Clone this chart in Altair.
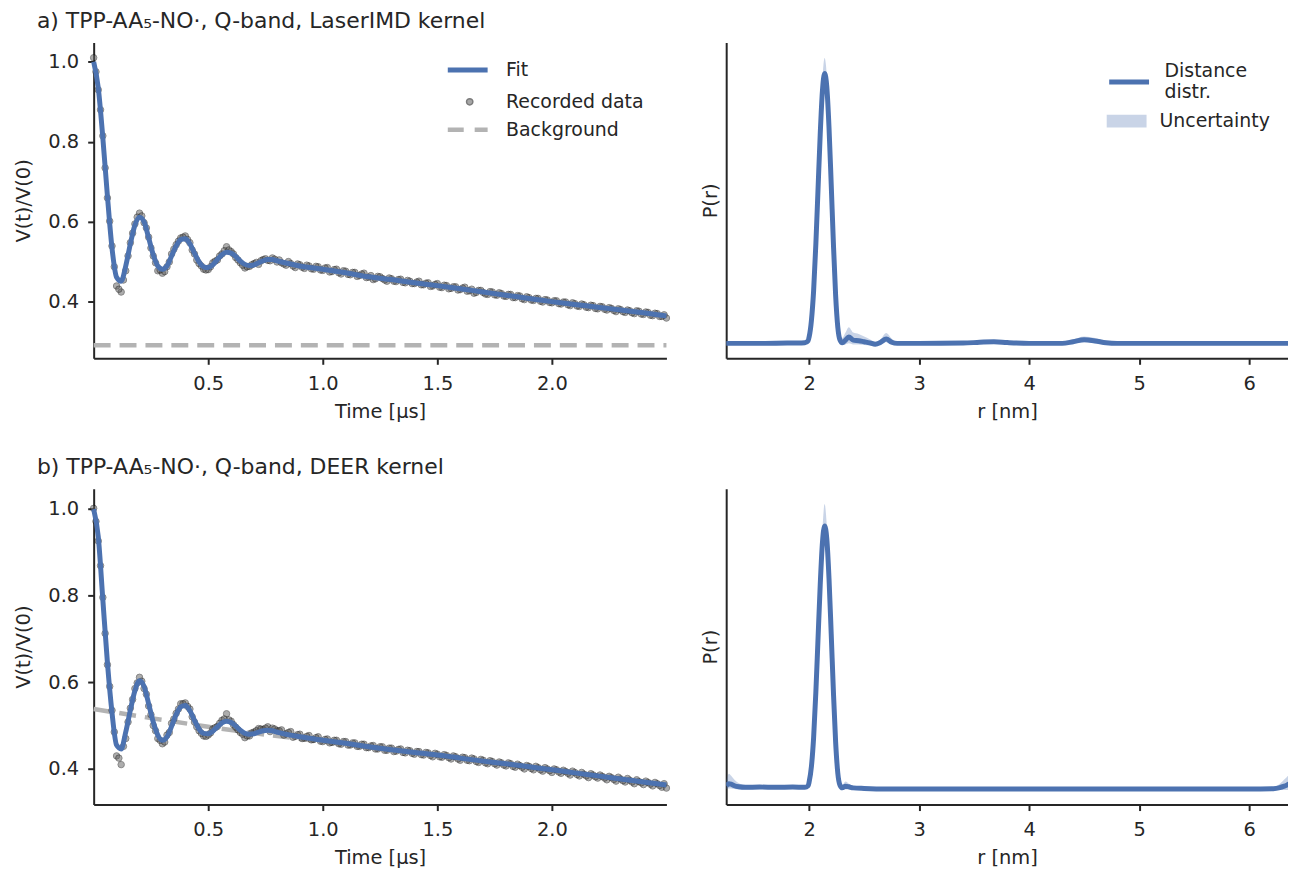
import altair as alt
import pandas as pd

FONT = "DejaVu Sans"
TEXT = "#262626"
BLUE = "#4C72B0"
GREY_BG = "#b3b3b3"
GREY_DOT = "#5e5e5e"

# ---------------- time-domain data (sampled on two interleaved grids) ----------------
time_us_even = [0.00, 0.02, 0.04, 0.06, 0.08, 0.10, 0.12, 0.14, 0.16, 0.18,
                0.20, 0.22, 0.24, 0.26, 0.28, 0.30, 0.32, 0.34, 0.36, 0.38,
                0.40, 0.42, 0.44, 0.46, 0.48, 0.50, 0.52, 0.54, 0.56, 0.58,
                0.60, 0.62, 0.64, 0.66, 0.68, 0.70, 0.72, 0.74, 0.76, 0.78,
                0.80, 0.82, 0.84, 0.86, 0.88, 0.90, 0.92, 0.94, 0.96, 0.98,
                1.00, 1.02, 1.04, 1.06, 1.08, 1.10, 1.12, 1.14, 1.16, 1.18,
                1.20, 1.22, 1.24, 1.26, 1.28, 1.30, 1.32, 1.34, 1.36, 1.38,
                1.40, 1.42, 1.44, 1.46, 1.48, 1.50, 1.52, 1.54, 1.56, 1.58,
                1.60, 1.62, 1.64, 1.66, 1.68, 1.70, 1.72, 1.74, 1.76, 1.78,
                1.80, 1.82, 1.84, 1.86, 1.88, 1.90, 1.92, 1.94, 1.96, 1.98,
                2.00, 2.02, 2.04, 2.06, 2.08, 2.10, 2.12, 2.14, 2.16, 2.18,
                2.20, 2.22, 2.24, 2.26, 2.28, 2.30, 2.32, 2.34, 2.36, 2.38,
                2.40, 2.42, 2.44, 2.46, 2.48, 2.50]

time_us_odd = [0.01, 0.03, 0.05, 0.07, 0.09, 0.11, 0.13, 0.15, 0.17, 0.19,
               0.21, 0.23, 0.25, 0.27, 0.29, 0.31, 0.33, 0.35, 0.37, 0.39,
               0.41, 0.43, 0.45, 0.47, 0.49, 0.51, 0.53, 0.55, 0.57, 0.59,
               0.61, 0.63, 0.65, 0.67, 0.69, 0.71, 0.73, 0.75, 0.77, 0.79,
               0.81, 0.83, 0.85, 0.87, 0.89, 0.91, 0.93, 0.95, 0.97, 0.99,
               1.01, 1.03, 1.05, 1.07, 1.09, 1.11, 1.13, 1.15, 1.17, 1.19,
               1.21, 1.23, 1.25, 1.27, 1.29, 1.31, 1.33, 1.35, 1.37, 1.39,
               1.41, 1.43, 1.45, 1.47, 1.49, 1.51, 1.53, 1.55, 1.57, 1.59,
               1.61, 1.63, 1.65, 1.67, 1.69, 1.71, 1.73, 1.75, 1.77, 1.79,
               1.81, 1.83, 1.85, 1.87, 1.89, 1.91, 1.93, 1.95, 1.97, 1.99,
               2.01, 2.03, 2.05, 2.07, 2.09, 2.11, 2.13, 2.15, 2.17, 2.19,
               2.21, 2.23, 2.25, 2.27, 2.29, 2.31, 2.33, 2.35, 2.37, 2.39,
               2.41, 2.43, 2.45, 2.47, 2.49]

data_a_even = [1.010, 0.930, 0.815, 0.660, 0.540, 0.440, 0.425, 0.478, 0.548, 0.595,
               0.622, 0.598, 0.562, 0.515, 0.478, 0.472, 0.488, 0.520, 0.543, 0.560,
               0.565, 0.548, 0.520, 0.496, 0.482, 0.481, 0.498, 0.505, 0.520, 0.538,
               0.526, 0.511, 0.498, 0.485, 0.489, 0.496, 0.494, 0.506, 0.504, 0.510,
               0.500, 0.498, 0.492, 0.496, 0.486, 0.493, 0.484, 0.490, 0.482, 0.488,
               0.479, 0.486, 0.476, 0.482, 0.470, 0.477, 0.468, 0.474, 0.466, 0.472,
               0.462, 0.456, 0.464, 0.459, 0.452, 0.458, 0.451, 0.457, 0.448, 0.452,
               0.446, 0.452, 0.443, 0.448, 0.440, 0.446, 0.436, 0.441, 0.434, 0.438,
               0.431, 0.437, 0.428, 0.422, 0.429, 0.424, 0.419, 0.425, 0.417, 0.421,
               0.414, 0.419, 0.411, 0.415, 0.406, 0.411, 0.404, 0.409, 0.400, 0.405,
               0.398, 0.403, 0.395, 0.400, 0.391, 0.396, 0.389, 0.393, 0.386, 0.391,
               0.383, 0.388, 0.380, 0.384, 0.376, 0.381, 0.374, 0.378, 0.371, 0.377,
               0.369, 0.374, 0.366, 0.371, 0.364, 0.360]

data_a_odd = [0.975, 0.880, 0.735, 0.602, 0.488, 0.432, 0.455, 0.515, 0.572, 0.612,
              0.615, 0.585, 0.535, 0.498, 0.480, 0.476, 0.500, 0.532, 0.552, 0.562,
              0.556, 0.530, 0.505, 0.490, 0.480, 0.488, 0.502, 0.515, 0.528, 0.530,
              0.520, 0.505, 0.492, 0.488, 0.493, 0.499, 0.503, 0.508, 0.503, 0.507,
              0.505, 0.495, 0.501, 0.490, 0.495, 0.487, 0.492, 0.483, 0.489, 0.480,
              0.485, 0.475, 0.481, 0.473, 0.478, 0.469, 0.474, 0.464, 0.470, 0.461,
              0.466, 0.458, 0.463, 0.455, 0.460, 0.452, 0.456, 0.449, 0.454, 0.446,
              0.450, 0.443, 0.447, 0.439, 0.444, 0.437, 0.442, 0.433, 0.438, 0.430,
              0.435, 0.427, 0.432, 0.424, 0.429, 0.420, 0.426, 0.418, 0.423, 0.415,
              0.419, 0.411, 0.416, 0.408, 0.413, 0.405, 0.409, 0.402, 0.406, 0.399,
              0.403, 0.396, 0.400, 0.393, 0.398, 0.390, 0.395, 0.387, 0.392, 0.384,
              0.389, 0.382, 0.386, 0.379, 0.383, 0.376, 0.380, 0.373, 0.378, 0.370,
              0.375, 0.367, 0.372, 0.364, 0.368]

data_b_even = [1.000, 0.925, 0.795, 0.640, 0.535, 0.430, 0.410, 0.470, 0.540, 0.585,
               0.611, 0.585, 0.545, 0.500, 0.470, 0.458, 0.478, 0.505, 0.528, 0.550,
               0.552, 0.538, 0.508, 0.488, 0.476, 0.478, 0.492, 0.498, 0.512, 0.527,
               0.510, 0.496, 0.484, 0.472, 0.476, 0.485, 0.493, 0.491, 0.497, 0.494,
               0.488, 0.490, 0.481, 0.486, 0.475, 0.480, 0.471, 0.477, 0.468, 0.474,
               0.463, 0.469, 0.461, 0.466, 0.457, 0.463, 0.455, 0.460, 0.452, 0.457,
               0.449, 0.454, 0.446, 0.451, 0.443, 0.448, 0.441, 0.446, 0.437, 0.442,
               0.434, 0.440, 0.432, 0.437, 0.428, 0.434, 0.427, 0.431, 0.423, 0.428,
               0.420, 0.426, 0.419, 0.423, 0.415, 0.420, 0.412, 0.417, 0.409, 0.414,
               0.407, 0.412, 0.404, 0.408, 0.400, 0.406, 0.398, 0.403, 0.395, 0.400,
               0.392, 0.398, 0.390, 0.394, 0.386, 0.392, 0.384, 0.388, 0.380, 0.386,
               0.379, 0.383, 0.375, 0.380, 0.372, 0.377, 0.370, 0.374, 0.366, 0.371,
               0.364, 0.369, 0.361, 0.366, 0.358, 0.356]

data_b_odd = [0.970, 0.868, 0.712, 0.590, 0.485, 0.425, 0.452, 0.508, 0.560, 0.598,
              0.602, 0.572, 0.525, 0.488, 0.466, 0.462, 0.484, 0.515, 0.538, 0.550,
              0.544, 0.520, 0.497, 0.482, 0.475, 0.483, 0.495, 0.505, 0.515, 0.513,
              0.502, 0.490, 0.480, 0.476, 0.483, 0.488, 0.492, 0.494, 0.486, 0.492,
              0.488, 0.478, 0.484, 0.473, 0.479, 0.470, 0.475, 0.467, 0.472, 0.464,
              0.468, 0.460, 0.466, 0.458, 0.463, 0.455, 0.460, 0.452, 0.457, 0.449,
              0.453, 0.446, 0.451, 0.443, 0.448, 0.440, 0.445, 0.438, 0.443, 0.436,
              0.440, 0.433, 0.438, 0.431, 0.436, 0.428, 0.433, 0.426, 0.430, 0.423,
              0.427, 0.420, 0.425, 0.417, 0.422, 0.414, 0.419, 0.412, 0.416, 0.409,
              0.414, 0.406, 0.411, 0.404, 0.408, 0.401, 0.406, 0.398, 0.403, 0.396,
              0.400, 0.393, 0.397, 0.390, 0.395, 0.387, 0.392, 0.384, 0.389, 0.382,
              0.386, 0.379, 0.383, 0.376, 0.381, 0.373, 0.378, 0.370, 0.375, 0.368,
              0.372, 0.365, 0.369, 0.362, 0.366]

fit_time_us = [0.00, 0.02, 0.04, 0.06, 0.08, 0.10, 0.12, 0.14, 0.16, 0.18,
               0.20, 0.22, 0.24, 0.26, 0.28, 0.30, 0.32, 0.34, 0.36, 0.38,
               0.40, 0.42, 0.44, 0.46, 0.48, 0.50, 0.52, 0.54, 0.56, 0.58,
               0.60, 0.62, 0.64, 0.66, 0.68, 0.70, 0.72, 0.74, 0.76, 0.78,
               0.80, 0.90, 1.00, 1.10, 1.20, 1.30, 1.40, 1.50, 1.60, 1.70,
               1.80, 1.90, 2.00, 2.10, 2.20, 2.30, 2.40, 2.50]

fit_a = [1.000, 0.935, 0.810, 0.665, 0.535, 0.462, 0.452, 0.490, 0.545, 0.592,
         0.612, 0.600, 0.560, 0.518, 0.490, 0.482, 0.490, 0.515, 0.540, 0.556,
         0.558, 0.545, 0.522, 0.500, 0.488, 0.486, 0.493, 0.506, 0.518, 0.524,
         0.522, 0.514, 0.502, 0.494, 0.491, 0.493, 0.498, 0.503, 0.506, 0.506,
         0.503, 0.490, 0.482, 0.473, 0.463, 0.456, 0.448, 0.441, 0.433, 0.425,
         0.417, 0.409, 0.401, 0.394, 0.387, 0.380, 0.373, 0.365]

fit_b = [0.998, 0.935, 0.790, 0.645, 0.530, 0.455, 0.446, 0.485, 0.535, 0.580,
         0.603, 0.590, 0.550, 0.508, 0.478, 0.466, 0.474, 0.498, 0.525, 0.543,
         0.546, 0.534, 0.512, 0.492, 0.482, 0.481, 0.487, 0.497, 0.506, 0.510,
         0.507, 0.499, 0.489, 0.482, 0.480, 0.481, 0.485, 0.488, 0.489, 0.488,
         0.485, 0.474, 0.466, 0.459, 0.451, 0.444, 0.438, 0.432, 0.425, 0.418,
         0.412, 0.405, 0.398, 0.391, 0.384, 0.377, 0.370, 0.363]

bg_time_a = [0.00, 2.50]
bg_a = [0.292, 0.292]

bg_time_b = [0.00, 0.25, 0.50, 0.75, 1.00, 1.25, 1.50, 1.75, 2.00, 2.25, 2.50]
bg_b = [0.538, 0.517, 0.497, 0.479, 0.463, 0.447, 0.432, 0.415, 0.399, 0.381, 0.363]

# ---------------- distance distributions ----------------
r_a = [1.245, 1.40, 1.60, 1.80, 1.90, 1.96, 1.99, 2.00, 2.02, 2.04,
       2.06, 2.08, 2.10, 2.12, 2.14, 2.16, 2.18, 2.20, 2.22, 2.24,
       2.26, 2.28, 2.30, 2.33, 2.36, 2.40, 2.45, 2.50, 2.55, 2.60,
       2.65, 2.70, 2.75, 2.80, 3.00, 3.40, 3.55, 3.68, 3.80, 4.00,
       4.30, 4.40, 4.50, 4.60, 4.70, 4.80, 5.20, 5.80, 6.43]
P_a = [0.000, 0.000, 0.000, 0.001, 0.001, 0.002, 0.010, 0.025, 0.085, 0.195,
       0.365, 0.570, 0.775, 0.935, 1.000, 0.950, 0.800, 0.590, 0.370, 0.180,
       0.060, 0.012, 0.002, 0.012, 0.024, 0.012, 0.010, 0.006, 0.002, -0.003,
       0.004, 0.016, 0.004, 0.000, 0.000, 0.001, 0.004, 0.006, 0.003, 0.000,
       0.000, 0.006, 0.013, 0.009, 0.002, 0.000, 0.000, 0.000, 0.000]
upper_a = [0.004, 0.004, 0.004, 0.005, 0.005, 0.006, 0.016, 0.040, 0.105, 0.215,
           0.390, 0.600, 0.805, 0.980, 1.058, 0.995, 0.830, 0.615, 0.390, 0.200,
           0.080, 0.030, 0.020, 0.040, 0.060, 0.040, 0.035, 0.025, 0.015, 0.006,
           0.015, 0.038, 0.018, 0.005, 0.004, 0.005, 0.009, 0.012, 0.008, 0.004,
           0.004, 0.014, 0.025, 0.020, 0.008, 0.004, 0.004, 0.004, 0.004]
lower_a = [-0.004, -0.004, -0.004, -0.003, -0.003, -0.002, 0.004, 0.012, 0.065, 0.175,
           0.340, 0.540, 0.745, 0.900, 0.950, 0.905, 0.770, 0.565, 0.350, 0.160,
           0.045, 0.000, -0.006, -0.004, 0.000, -0.004, -0.004, -0.006, -0.008, -0.010,
           -0.004, 0.004, -0.004, -0.004, -0.004, -0.003, -0.001, 0.000, -0.002, -0.004,
           -0.004, -0.001, 0.004, 0.000, -0.003, -0.004, -0.004, -0.004, -0.004]

r_b = [1.245, 1.27, 1.29, 1.32, 1.36, 1.42, 1.55, 1.70, 1.85, 1.96,
       1.99, 2.00, 2.02, 2.04, 2.06, 2.08, 2.10, 2.12, 2.14, 2.16,
       2.18, 2.20, 2.22, 2.24, 2.26, 2.28, 2.30, 2.33, 2.36, 2.40,
       2.50, 2.70, 3.00, 4.00, 5.00, 6.00, 6.22, 6.28, 6.33, 6.38,
       6.43]
P_b = [0.012, 0.020, 0.018, 0.012, 0.008, 0.006, 0.007, 0.006, 0.007, 0.006,
       0.012, 0.028, 0.085, 0.195, 0.365, 0.570, 0.775, 0.935, 1.000, 0.950,
       0.800, 0.590, 0.370, 0.180, 0.060, 0.014, 0.004, 0.010, 0.008, 0.004,
       0.002, 0.000, 0.000, 0.000, 0.000, 0.000, 0.001, 0.005, 0.012, 0.020,
       0.018]
upper_b = [0.030, 0.058, 0.050, 0.035, 0.022, 0.014, 0.012, 0.011, 0.012, 0.012,
           0.020, 0.045, 0.105, 0.215, 0.390, 0.600, 0.810, 0.985, 1.083, 1.000,
           0.835, 0.615, 0.390, 0.200, 0.080, 0.030, 0.015, 0.028, 0.020, 0.010,
           0.006, 0.004, 0.003, 0.003, 0.003, 0.003, 0.006, 0.020, 0.040, 0.058,
           0.060]
lower_b = [0.000, 0.002, 0.002, 0.000, -0.002, -0.002, 0.001, 0.001, 0.002, 0.001,
           0.004, 0.012, 0.065, 0.175, 0.340, 0.540, 0.740, 0.890, 0.940, 0.900,
           0.765, 0.565, 0.350, 0.160, 0.045, 0.002, -0.004, -0.002, -0.002, -0.003,
           -0.003, -0.003, -0.003, -0.003, -0.003, -0.003, -0.003, -0.004, -0.004, -0.004,
           -0.006]

title_a = "a) TPP-AA\u2085-NO\u00b7, Q-band, LaserIMD kernel"
title_b = "b) TPP-AA\u2085-NO\u00b7, Q-band, DEER kernel"
time_ticks = [0.5, 1.0, 1.5, 2.0]
v_ticks = [0.4, 0.6, 0.8, 1.0]
r_ticks = [2, 3, 4, 5, 6]

PW_L, PW_R, PH = 575, 564, 317
LAB = 19.5


def leg(show, **kw):
    if not show:
        return None
    base = dict(orient="none", title=None, padding=0, labelFont=FONT,
                labelFontSize=19, labelColor=TEXT)
    base.update(kw)
    return alt.Legend(**base)


def time_panel(d_even, d_odd, fit_vals, bg_t, bg_vals, ydom, show_leg):
    df_data = pd.DataFrame({"t": time_us_even + time_us_odd, "v": d_even + d_odd})
    df_fit = pd.DataFrame({"t": fit_time_us, "v": fit_vals})
    df_bg = pd.DataFrame({"t": bg_t, "v": bg_vals})
    x = alt.X("t:Q", scale=alt.Scale(domain=[0, 2.5], nice=False, zero=False),
              axis=alt.Axis(values=time_ticks, format=".1f", title="Time [µs]"))
    y = alt.Y("v:Q", scale=alt.Scale(domain=ydom, nice=False, zero=False),
              axis=alt.Axis(values=v_ticks, format=".1f", title="V(t)/V(0)"))
    bg = alt.Chart(df_bg).transform_calculate(s="'Background'").mark_line(
        strokeWidth=4.5, strokeDash=[17, 9]).encode(
        x=x, y=y,
        color=alt.Color("s:N", scale=alt.Scale(domain=["Background"], range=[GREY_BG]),
                        legend=leg(show_leg, legendX=353, legendY=65, symbolType="stroke",
                                   symbolSize=1600, symbolStrokeWidth=4.5,
                                   symbolDash=[16, 11], labelOffset=16)))
    pts = alt.Chart(df_data).transform_calculate(s="'Recorded data'").mark_circle(
        size=42, opacity=0.5, stroke="#111111", strokeWidth=1).encode(
        x=x, y=y,
        color=alt.Color("s:N", scale=alt.Scale(domain=["Recorded data"], range=[GREY_DOT]),
                        legend=leg(show_leg, legendX=368, legendY=50, symbolType="circle",
                                   symbolSize=40, symbolOpacity=0.55, labelOffset=27)))
    fit = alt.Chart(df_fit).transform_calculate(s="'Fit'").mark_line(
        strokeWidth=5, interpolate="monotone").encode(
        x=x, y=y,
        color=alt.Color("s:N", scale=alt.Scale(domain=["Fit"], range=[BLUE]),
                        legend=leg(show_leg, legendX=353, legendY=5, symbolType="stroke",
                                   symbolSize=1600, symbolStrokeWidth=5, labelOffset=16)))
    return alt.layer(bg, pts, fit).resolve_scale(color="independent").properties(
        width=PW_L, height=PH)


def dist_panel(r, p, lo, hi, ydom, show_leg):
    df = pd.DataFrame({"r": r, "p": p, "lo": lo, "hi": hi})
    x = alt.X("r:Q", scale=alt.Scale(domain=[1.245, 6.354], nice=False, zero=False),
              axis=alt.Axis(values=r_ticks, format="d", title="r [nm]"))
    yax = alt.Axis(title="P(r)", labels=False, ticks=False, titlePadding=6)
    band = alt.Chart(df).transform_calculate(s="'Uncertainty'").mark_area(
        opacity=0.3, interpolate="monotone", clip=True).encode(
        x=x,
        y=alt.Y("lo:Q", scale=alt.Scale(domain=ydom, nice=False, zero=False), axis=yax),
        y2="hi:Q",
        color=alt.Color("s:N", scale=alt.Scale(domain=["Uncertainty"], range=[BLUE]),
                        legend=leg(show_leg, legendX=382, legendY=59,
                                   symbolType="M-1,-0.32H1V0.32H-1Z", symbolSize=1600,
                                   symbolOpacity=0.3, symbolStrokeWidth=0, labelOffset=13)))
    line = alt.Chart(df).transform_calculate(s="'Distance distr.'").mark_line(
        strokeWidth=5, interpolate="monotone", clip=True).encode(
        x=x,
        y=alt.Y("p:Q", scale=alt.Scale(domain=ydom, nice=False, zero=False), axis=yax),
        color=alt.Color("s:N", scale=alt.Scale(domain=["Distance distr."], range=[BLUE]),
                        legend=leg(show_leg, legendX=382, legendY=17, symbolType="stroke",
                                   symbolSize=1600, symbolStrokeWidth=5, labelOffset=13,
                                   labelBaseline="line-bottom",
                                   labelExpr="['Distance', 'distr.']")))
    return alt.layer(band, line).resolve_scale(color="independent").properties(
        width=PW_R, height=PH)


def row_title(text):
    return alt.TitleParams(text=text, anchor="start", frame="bounds", fontSize=22,
                           font=FONT, fontWeight="normal", color=TEXT, offset=10, dx=23)


row_a = alt.hconcat(
    time_panel(data_a_even, data_a_odd, fit_a, bg_time_a, bg_a, [0.2594, 1.048], True),
    dist_panel(r_a, P_a, lower_a, upper_a, [-0.0554, 1.115], True),
    spacing=24, title=row_title(title_a))

row_b = alt.hconcat(
    time_panel(data_b_even, data_b_odd, fit_b, bg_time_b, bg_b, [0.318, 1.045], False),
    dist_panel(r_b, P_b, lower_b, upper_b, [-0.0595, 1.141], False),
    spacing=24, title=row_title(title_b))

chart = alt.vconcat(row_a, row_b, spacing=35).properties(
    padding={"left": 5, "top": 0, "right": 0, "bottom": 0}
).configure_view(stroke=None).configure_axis(
    grid=False, domainColor=TEXT, domainWidth=2, tickColor=TEXT, tickWidth=2,
    tickSize=6, labelPadding=9, labelFont=FONT, labelFontSize=LAB, labelColor=TEXT,
    titleFont=FONT, titleFontSize=LAB, titleColor=TEXT, titleFontWeight="normal",
    titlePadding=9
).configure_axisX(labelPadding=10, titlePadding=10).configure_axisY(
    titlePadding=14).configure_legend(
    labelFont=FONT, labelFontSize=19, labelColor=TEXT)

chart.save("out.html", embed_options={"renderer": "svg", "actions": False})
